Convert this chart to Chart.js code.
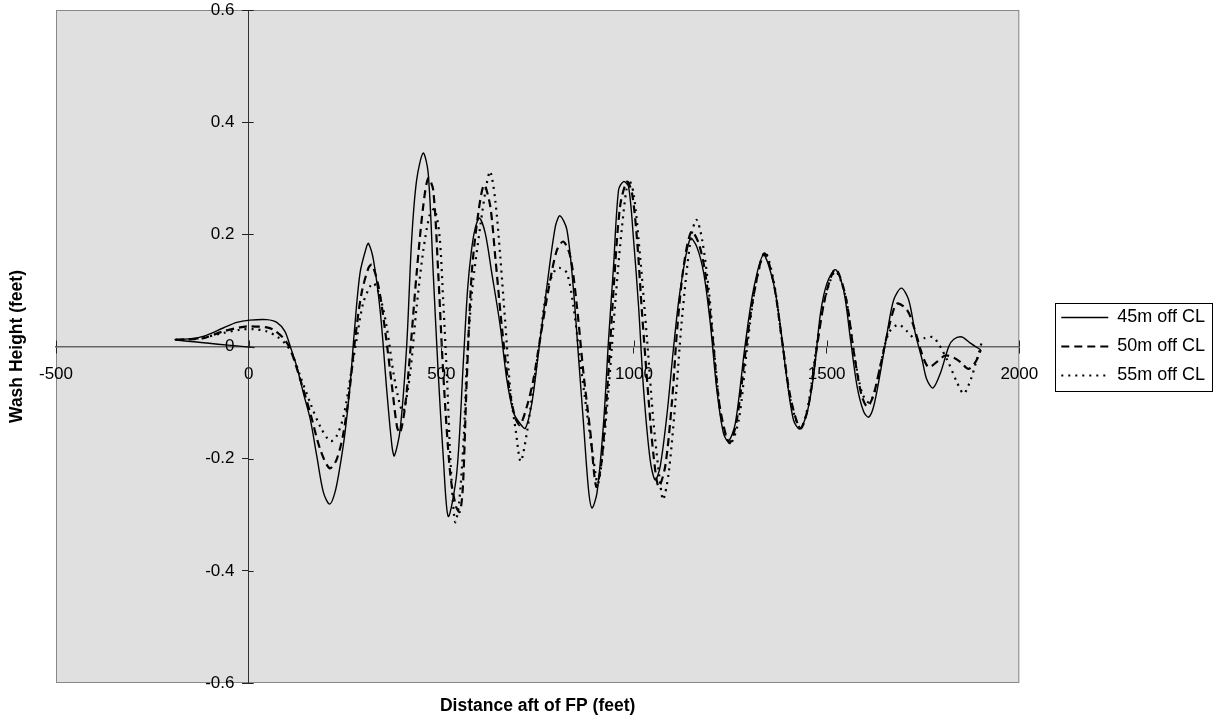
<!DOCTYPE html>
<html>
<head>
<meta charset="utf-8">
<script src="https://cdn.jsdelivr.net/npm/chart.js@4/dist/chart.umd.min.js"></script>
<style>
  html, body { margin: 0; padding: 0; background: #fff; }
  #wrap { width: 1217px; height: 725px; }
</style>
</head>
<body>
<div id="wrap"><canvas id="wash-chart"></canvas></div>
<script>
// values: distance aft of FP (feet) -> wash height (feet)

const seriesNames = ['45m off CL', '50m off CL', '55m off CL'];
const xTicks = [-500, 0, 500, 1000, 1500, 2000];
const yTicks = [-0.6, -0.4, -0.2, 0, 0.2, 0.4, 0.6];

const dist45 = [15, -190, -150, -118, -66, -31, 3, 47, 73, 94,
    108, 125, 142, 160, 177, 194, 210, 224, 237, 250,
    263, 274, 289, 306, 311, 324, 342, 359, 372, 378,
    393, 410, 423, 436, 453, 466, 479, 492, 505, 518,
    540, 557, 568, 578, 588, 599, 614, 631, 653, 670,
    688, 704, 718, 735, 752, 774, 796, 808, 826, 843,
    856, 869, 882, 891, 904, 921, 934, 947, 960, 973,
    986, 999, 1012, 1025, 1042, 1055, 1068, 1086, 1103, 1120,
    1146, 1163, 1181, 1198, 1215, 1232, 1245, 1263, 1288, 1310,
    1336, 1362, 1380, 1397, 1414, 1430, 1449, 1467, 1484, 1501,
    1523, 1544, 1562, 1579, 1596, 1609, 1622, 1639, 1657, 1674,
    1694, 1713, 1730, 1748, 1760, 1776, 1795, 1817, 1830, 1851,
    1873, 1900];
const wash45 = [-0.002, 0.012, 0.014, 0.018, 0.033, 0.043, 0.047, 0.048, 0.043, 0.027,
    0.0, -0.036, -0.083, -0.13, -0.196, -0.26, -0.281, -0.26, -0.214, -0.154,
    -0.071, 0.024, 0.131, 0.178, 0.184, 0.154, 0.059, -0.083, -0.178, -0.195,
    -0.149, 0.0, 0.19, 0.297, 0.345, 0.309, 0.131, -0.048, -0.196, -0.303,
    -0.226, -0.03, 0.1, 0.17, 0.211, 0.229, 0.202, 0.131, 0.036, -0.059,
    -0.119, -0.137, -0.146, -0.101, -0.012, 0.107, 0.214, 0.233, 0.208, 0.101,
    -0.018, -0.137, -0.255, -0.288, -0.261, -0.137, 0.012, 0.143, 0.279, 0.294,
    0.285, 0.19, 0.071, -0.077, -0.202, -0.238, -0.214, -0.119, 0.0, 0.101,
    0.193, 0.178, 0.131, 0.042, -0.077, -0.154, -0.169, -0.137, 0.0, 0.101,
    0.163, 0.113, 0.036, -0.059, -0.131, -0.147, -0.119, -0.048, 0.059, 0.113,
    0.137, 0.101, 0.012, -0.071, -0.116, -0.126, -0.107, -0.048, 0.024, 0.083,
    0.104, 0.083, 0.024, -0.024, -0.059, -0.074, -0.048, 0.0, 0.013, 0.017,
    0.006, -0.006];

const dist50 = [-190, -150, -117, -66, -22, 3, 47, 64, 90, 107,
    134, 160, 186, 210, 228, 246, 263, 276, 293, 311,
    320, 337, 355, 372, 385, 393, 406, 419, 436, 453,
    466, 479, 492, 505, 523, 538, 548, 556, 566, 579,
    596, 611, 627, 640, 657, 674, 691, 704, 722, 739,
    756, 778, 800, 817, 835, 852, 869, 887, 902, 915,
    930, 947, 964, 982, 995, 1008, 1021, 1038, 1051, 1064,
    1081, 1099, 1112, 1129, 1149, 1168, 1185, 1203, 1220, 1237,
    1249, 1267, 1289, 1310, 1338, 1362, 1384, 1406, 1432,
    1453, 1475, 1497, 1523, 1549, 1571, 1590, 1605, 1620, 1639,
    1660, 1676, 1685, 1709, 1726, 1744, 1757, 1766, 1787, 1808,
    1830, 1848, 1868, 1887, 1900];
const wash50 = [0.012, 0.013, 0.015, 0.027, 0.034, 0.036, 0.034, 0.030, 0.015, -0.003,
    -0.059, -0.119, -0.184, -0.217, -0.202, -0.154, -0.071, 0.012, 0.095, 0.14,
    0.146, 0.107, 0.024, -0.071, -0.143, -0.154, -0.107, -0.012, 0.131, 0.25,
    0.3, 0.279, 0.131, -0.048, -0.226, -0.285, -0.295, -0.25, -0.06, 0.131,
    0.238, 0.288, 0.25, 0.16, 0.036, -0.065, -0.125, -0.14, -0.107, -0.059,
    0.012, 0.101, 0.172, 0.187, 0.16, 0.071, -0.048, -0.154, -0.25, -0.21,
    -0.083, 0.101, 0.25, 0.294, 0.273, 0.19, 0.059, -0.095, -0.196, -0.25,
    -0.214, -0.095, 0.03, 0.143, 0.205, 0.184, 0.131, 0.024, -0.095, -0.154,
    -0.172, -0.131, -0.012, 0.089, 0.166, 0.115, 0.012, -0.09, -0.146,
    -0.105, 0.0, 0.09, 0.138, 0.09, -0.012, -0.085, -0.107, -0.09, -0.036,
    0.03, 0.07, 0.077, 0.065, 0.036, -0.006, -0.03, -0.037, -0.027, -0.016,
    -0.02, -0.028, -0.04, -0.027, -0.006];

const dist55 = [-190, -150, -118, -66, -22, 13, 47, 73, 94, 112,
    134, 160, 186, 212, 228, 246, 263, 280, 297, 315,
    325, 341, 358, 376, 393, 402, 419, 436, 453, 470,
    482, 495, 505, 515, 525, 536, 546, 558, 566, 580,
    601, 618, 627, 640, 653, 666, 679, 694, 706, 722,
    739, 756, 774, 796, 808, 826, 843, 860, 878, 895,
    906, 917, 934, 952, 969, 986, 999, 1016, 1034, 1051,
    1069, 1076, 1090, 1108, 1125, 1147, 1162, 1177, 1195, 1212,
    1229, 1250, 1272, 1294, 1315, 1340, 1362, 1384, 1406,
    1432, 1453, 1475, 1497, 1523, 1549, 1571, 1592, 1610, 1625,
    1639, 1661, 1686, 1709, 1730, 1755, 1778, 1813, 1839, 1856,
    1874, 1887, 1895, 1904];
const wash55 = [0.012, 0.013, 0.016, 0.024, 0.03, 0.031, 0.027, 0.018, 0.006, -0.012,
    -0.053, -0.101, -0.143, -0.169, -0.16, -0.125, -0.059, 0.012, 0.077, 0.107,
    0.113, 0.089, 0.036, -0.048, -0.105, -0.116, -0.048, 0.071, 0.17, 0.235,
    0.245, 0.2, 0.08, -0.06, -0.22, -0.313, -0.28, -0.166, -0.035, 0.1,
    0.214, 0.291, 0.312, 0.261, 0.16, 0.042, -0.077, -0.154, -0.205, -0.154,
    -0.071, 0.012, 0.101, 0.137, 0.14, 0.131, 0.071, -0.024, -0.119, -0.202,
    -0.245, -0.202, -0.077, 0.083, 0.214, 0.297, 0.273, 0.16, 0.012, -0.137,
    -0.25, -0.273, -0.226, -0.095, 0.053, 0.19, 0.226, 0.19, 0.095, -0.036,
    -0.137, -0.173, -0.131, 0.0, 0.107, 0.168, 0.119, 0.012, -0.095,
    -0.146, -0.101, 0.006, 0.089, 0.134, 0.089, -0.012, -0.083, -0.1, -0.08,
    -0.036, 0.024, 0.039, 0.027, 0.013, 0.015, 0.016, -0.024, -0.065, -0.084,
    -0.059, -0.03, -0.012, 0.012];

function toPoints(xs, ys) {
    return xs.map((x, i) => ({ x: x, y: ys[i] }));
}

Chart.defaults.font.family = "'Liberation Sans', Arial, sans-serif";
Chart.defaults.font.size = 18;
Chart.defaults.color = '#000';

// grey plot area with a thin frame
const plotArea = {
    id: 'plotArea',
    beforeDraw(chart) {
        const { ctx, chartArea: a } = chart;
        ctx.save();
        ctx.fillStyle = '#e0e0e0';
        ctx.fillRect(a.left, a.top, a.right - a.left, a.bottom - a.top);
        ctx.strokeStyle = '#888';
        ctx.lineWidth = 1;
        ctx.strokeRect(a.left + 0.5, a.top + 0.5, a.right - a.left - 1, a.bottom - a.top - 1);
        ctx.restore();
    }
};

// tick marks cross the axes: draw the inner half too
const crossTicks = {
    id: 'crossTicks',
    afterDraw(chart) {
        const { ctx, scales } = chart;
        const x0 = scales.x.getPixelForValue(0);
        const y0 = scales.y.getPixelForValue(0);
        ctx.save();
        ctx.strokeStyle = '#222';
        ctx.lineWidth = 1;
        ctx.beginPath();
        xTicks.forEach(v => {
            const px = Math.round(scales.x.getPixelForValue(v)) + 0.5;
            ctx.moveTo(px, y0);
            ctx.lineTo(px, y0 - 6);
        });
        yTicks.forEach(v => {
            const py = Math.round(scales.y.getPixelForValue(v)) + 0.5;
            ctx.moveTo(x0, py);
            ctx.lineTo(x0 + 5, py);
        });
        ctx.stroke();
        ctx.restore();
    }
};

// box round the legend entries
const legendFrame = {
    id: 'legendFrame',
    afterDraw(chart) {
        const boxes = chart.legend && chart.legend.legendHitBoxes;
        if (!boxes || !boxes.length) return;
        const left = Math.min(...boxes.map(b => b.left)) - 6;
        const right = Math.max(...boxes.map(b => b.left + b.width)) + 7;
        const top = Math.min(...boxes.map(b => b.top)) - 6;
        const bottom = Math.max(...boxes.map(b => b.top + b.height)) + 6;
        const ctx = chart.ctx;
        ctx.save();
        ctx.strokeStyle = '#000';
        ctx.lineWidth = 1;
        ctx.strokeRect(Math.round(left) + 0.5, Math.round(top) + 0.5,
            Math.round(right - left), Math.round(bottom - top));
        ctx.restore();
    }
};

function noPadding(s) {
    s.paddingTop = 0;
    s.paddingBottom = 0;
    s.paddingLeft = 0;
    s.paddingRight = 0;
}

const ctx = document.getElementById('wash-chart');

new Chart(ctx, {
    type: 'scatter',
    data: {
        datasets: [{
            label: seriesNames[0],
            data: toPoints(dist45, wash45),
            borderColor: '#000',
            borderWidth: 1.4,
            borderDash: []
        }, {
            label: seriesNames[1],
            data: toPoints(dist50, wash50),
            borderColor: '#000',
            borderWidth: 2.2,
            borderDash: [8, 5]
        }, {
            label: seriesNames[2],
            data: toPoints(dist55, wash55),
            borderColor: '#000',
            borderWidth: 2.2,
            borderDash: [2, 5]
        }]
    },
    options: {
        responsive: true,
        maintainAspectRatio: false,
        animation: false,
        datasets: {
            scatter: {
                showLine: true,
                pointRadius: 0,
                pointHoverRadius: 0,
                tension: 0.3,
                xAxisID: 'x',
                yAxisID: 'y'
            }
        },
        layout: {
            padding: { top: 10, right: 2, bottom: 0, left: 0 }
        },
        scales: {
            x: {
                type: 'linear',
                position: { y: 0 },
                min: -500,
                max: 2000,
                afterBuildTicks: s => { s.ticks = xTicks.map(v => ({ value: v })); },
                afterFit: noPadding,
                grid: { drawOnChartArea: false, tickLength: 6, color: '#222' },
                border: { color: '#666', width: 1.5 },
                ticks: {
                    color: '#000', padding: 12, maxRotation: 0, autoSkip: false,
                    font: { size: 17 },
                    callback: v => String(v)
                }
            },
            y: {
                type: 'linear',
                position: { x: 0 },
                min: -0.6,
                max: 0.6,
                afterBuildTicks: s => { s.ticks = yTicks.map(v => ({ value: v })); },
                afterFit: noPadding,
                grid: { drawOnChartArea: false, tickLength: 6, color: '#222' },
                border: { color: '#333', width: 1 },
                ticks: {
                    color: '#000', autoSkip: false,
                    font: { size: 17 },
                    // labels sit left of the axis line
                    callback: v => String(Math.round(v * 10) / 10) + '   '
                }
            },
            xt: {
                axis: 'x',
                type: 'linear',
                position: 'bottom',
                min: 0,
                max: 1,
                ticks: { display: false },
                grid: { display: false },
                border: { display: false },
                title: {
                    display: true,
                    text: 'Distance aft of FP (feet)',
                    color: '#000',
                    font: { size: 17.5, weight: 'bold' },
                    padding: { top: 0, bottom: 8 }
                },
                afterFit: s => { s.height = 42; }
            },
            yt: {
                axis: 'y',
                type: 'linear',
                position: 'left',
                min: 0,
                max: 1,
                ticks: { display: false },
                grid: { display: false },
                border: { display: false },
                title: {
                    display: true,
                    text: 'Wash Height (feet)',
                    color: '#000',
                    font: { size: 17.5, weight: 'bold' },
                    padding: { top: 7, bottom: 0 }
                },
                afterFit: s => { s.width = 56; }
            },
            yr: {
                axis: 'y',
                type: 'linear',
                position: 'right',
                min: 0,
                max: 1,
                ticks: { display: false },
                grid: { display: false },
                border: { display: false },
                afterFit: s => { s.width = 31; }
            }
        },
        plugins: {
            legend: {
                position: 'right',
                align: 'center',
                fullSize: false,
                maxWidth: 220,
                labels: {
                    usePointStyle: true,
                    pointStyle: 'line',
                    pointStyleWidth: 47,
                    padding: 11,
                    color: '#000',
                    font: { size: 18 },
                    generateLabels: chart => chart.data.datasets.map((ds, i) => ({
                        text: ds.label,
                        datasetIndex: i,
                        strokeStyle: ds.borderColor,
                        fillStyle: ds.borderColor,
                        lineWidth: ds.borderWidth,
                        lineDash: ds.borderDash,
                        pointStyle: 'line',
                        fontColor: '#000',
                        hidden: false
                    }))
                }
            },
            tooltip: { enabled: false }
        }
    },
    plugins: [plotArea, crossTicks, legendFrame]
});
</script>
</body>
</html>
